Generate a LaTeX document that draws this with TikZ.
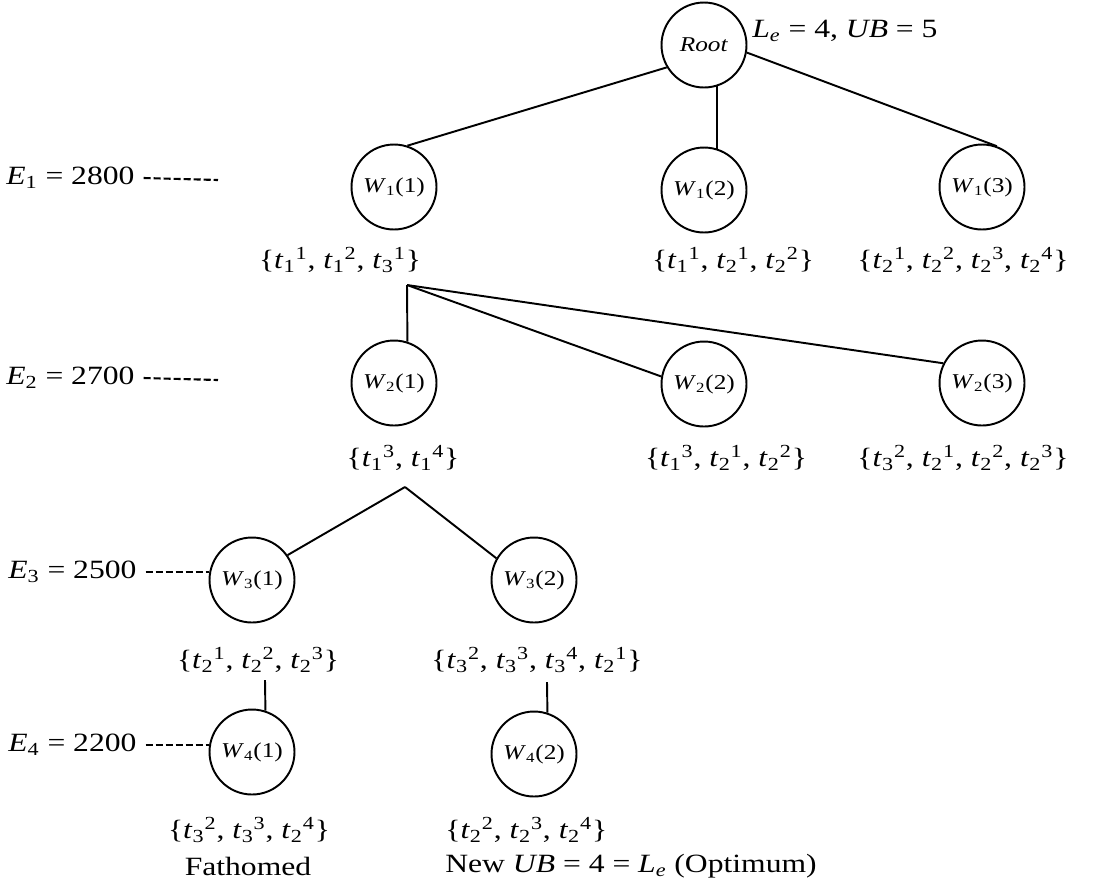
\documentclass[tikz,border=0pt]{standalone}
\usepackage{fontspec}
\setmainfont{Liberation Serif}[FakeStretch=1.2]
\newcommand{\tsx}[2]{\textit{t}\textsubscript{#1}\textsuperscript{#2}}
\newcommand{\wlab}[2]{\textit{W}\textsubscript{#1}(#2)}
\tikzset{
  wnode/.style={circle, draw, line width=1.1pt, minimum size=1.7cm, inner sep=0pt, font=\fontsize{12}{14}\selectfont},
  lab/.style={font=\fontsize{15}{18}\selectfont, inner sep=0pt},
  edge/.style={line width=1.1pt},
  dashline/.style={line width=1.2pt, dash pattern=on 4pt off 1.7pt}
}
\begin{document}
\begin{tikzpicture}[x=0.02cm, y=-0.02cm]
\useasboundingbox (0,0) rectangle (1105,894);
% nodes
\node[wnode, font=\fontsize{12}{14}\selectfont] (root) at (704,45) {\textit{Root}};
\node[lab, anchor=west] (le) at (752,31) {\textit{L}\textsubscript{\textit{e}} = 4, \textit{UB} = 5};

\node[wnode] (w11) at (394,187) {\wlab{1}{1}};
\node[wnode] (w12) at (704,190) {\wlab{1}{2}};
\node[wnode] (w13) at (982,187) {\wlab{1}{3}};
\node[lab] (s11) at (340,260) {\{\tsx{1}{1}, \tsx{1}{2}, \tsx{3}{1}\}};
\node[lab] (s12) at (733,260) {\{\tsx{1}{1}, \tsx{2}{1}, \tsx{2}{2}\}};
\node[lab] (s13) at (963,260) {\{\tsx{2}{1}, \tsx{2}{2}, \tsx{2}{3}, \tsx{2}{4}\}};

\node[wnode] (w21) at (394,383) {\wlab{2}{1}};
\node[wnode] (w22) at (704,384) {\wlab{2}{2}};
\node[wnode] (w23) at (982,383) {\wlab{2}{3}};
\node[lab] (s21) at (403,458) {\{\tsx{1}{3}, \tsx{1}{4}\}};
\node[lab] (s22) at (726,458) {\{\tsx{1}{3}, \tsx{2}{1}, \tsx{2}{2}\}};
\node[lab] (s23) at (963,458) {\{\tsx{3}{2}, \tsx{2}{1}, \tsx{2}{2}, \tsx{2}{3}\}};

\node[wnode] (w31) at (252,580) {\wlab{3}{1}};
\node[wnode] (w32) at (534,580) {\wlab{3}{2}};
\node[lab] (s31) at (258,660) {\{\tsx{2}{1}, \tsx{2}{2}, \tsx{2}{3}\}};
\node[lab] (s32) at (537,660) {\{\tsx{3}{2}, \tsx{3}{3}, \tsx{3}{4}, \tsx{2}{1}\}};

\node[wnode] (w41) at (252,752) {\wlab{4}{1}};
\node[wnode] (w42) at (534,754) {\wlab{4}{2}};
\node[lab] (s41) at (249,830) {\{\tsx{3}{2}, \tsx{3}{3}, \tsx{2}{4}\}};
\node[lab] (fath) at (248,866) {Fathomed};
\node[lab, anchor=west] (s42) at (445,830) {\{\tsx{2}{2}, \tsx{2}{3}, \tsx{2}{4}\}};
\node[lab, anchor=west] (newub) at (445,866) {New \textit{UB} = 4 = \textit{L}\textsubscript{\textit{e}} (Optimum)};

% level labels
\node[lab, anchor=west] (e1) at (6,178) {\textit{E}\textsubscript{1} = 2800};
\node[lab, anchor=west] (e2) at (6,378) {\textit{E}\textsubscript{2} = 2700};
\node[lab, anchor=west] (e3) at (8,572) {\textit{E}\textsubscript{3} = 2500};
\node[lab, anchor=west] (e4) at (8,745) {\textit{E}\textsubscript{4} = 2200};
\coordinate (d1) at (218,180);
\coordinate (d2) at (218,380);
\draw[dashline] ([xshift=5pt]e1.east) -- (d1);
\draw[dashline] ([xshift=5pt]e2.east) -- (d2);
\draw[dashline] ([xshift=5pt]e3.east) -- (e3.east -| w31.west);
\draw[dashline] ([xshift=5pt]e4.east) -- (e4.east -| w41.west);

% branch points
\coordinate (a1) at (407,285);
\coordinate (a2) at (405,487);
\coordinate (a3) at (265,680);
\coordinate (a4) at (547,682);

% edges
\draw[edge] (root.211) -- (w11.72);
\draw[edge] (root.-72) -- (w12.72);
\draw[edge] (root.-10) -- (w13.70);
\draw[edge] (a1) -- (w21.72);
\draw[edge] (a1) -- (w22.170);
\draw[edge] (a1) -- (w23.153);
\draw[edge] (a2) -- (w31.35);
\draw[edge] (a2) -- (w32.150);
\draw[edge] (a3) -- (w41.72);
\draw[edge] (a4) -- (w42.72);
\end{tikzpicture}
\end{document}
